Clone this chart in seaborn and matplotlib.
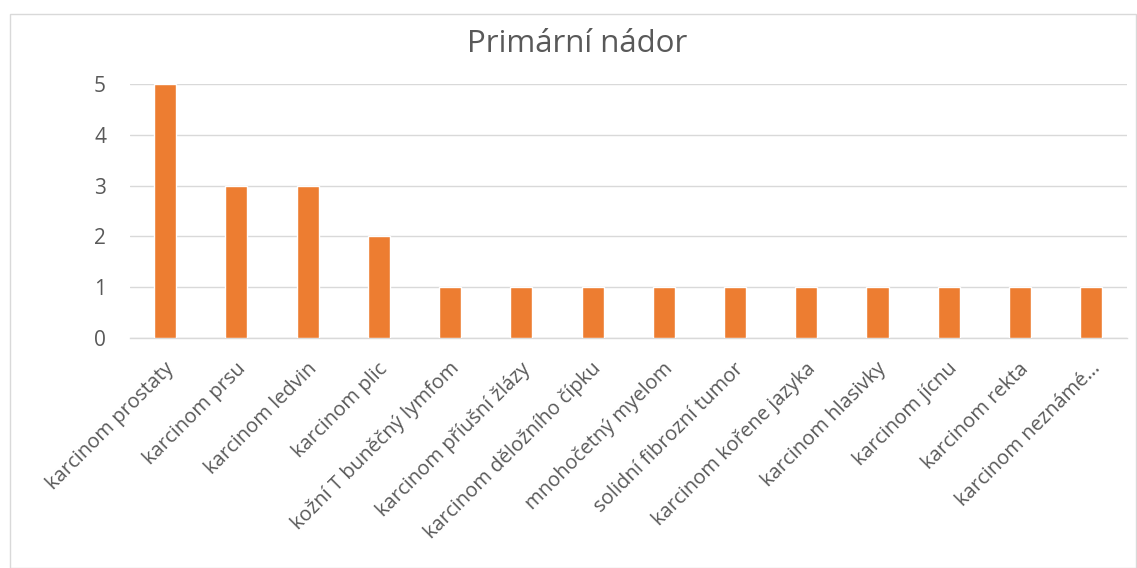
"""Primární nádor — sloupcový graf počtu případů"""

import matplotlib
matplotlib.use('Agg')
import matplotlib.pyplot as plt
import matplotlib.transforms as mtransforms
import pandas as pd
import seaborn as sns

kategorie = ['karcinom prostaty', 'karcinom prsu', 'karcinom ledvin', 'karcinom plic',
             'kožní T buněčný lymfom', 'karcinom příušní žlázy', 'karcinom děložního čípku',
             'mnohočetný myelom', 'solidní fibrozní tumor', 'karcinom kořene jazyka',
             'karcinom hlasivky', 'karcinom jícnu', 'karcinom rekta', 'karcinom neznámé…']
pocty = [5, 3, 3, 2, 1, 1, 1, 1, 1, 1, 1, 1, 1, 1]
y_ticks = [0, 1, 2, 3, 4, 5]

sns.set_theme(style='white')
plt.rcParams['font.family'] = ['Open Sans', 'DejaVu Sans']
sedy = '#595959'

df = pd.DataFrame({'nador': kategorie, 'pocet': pocty})

fig = plt.figure(figsize=(11.37, 5.68), dpi=100)
fig.patch.set_facecolor('white')
# rámeček grafu jako v Excelu
fig.add_artist(plt.Rectangle((10 / 1137, 0), 1 - 10 / 1137 - 0.001, 1 - 14 / 568,
                             transform=fig.transFigure, fill=False,
                             edgecolor='#d9d9d9', linewidth=1))
ax = fig.add_axes([0.114, 0.405, 0.877, 0.447])

sns.barplot(data=df, x='nador', y='pocet', color='#ED7D31', width=0.31,
            saturation=1, ax=ax, zorder=3)

ax.set_ylim(0, 5)
ax.set_yticks(y_ticks)
ax.set_xlim(-0.5, len(kategorie) - 0.5)
ax.yaxis.grid(True, color='#d9d9d9', linewidth=1)
ax.set_axisbelow(True)
for s in ['top', 'right', 'left']:
    ax.spines[s].set_visible(False)
ax.spines['bottom'].set_color('#d9d9d9')
ax.spines['bottom'].set_linewidth(1)
ax.set_xlabel('')
ax.set_ylabel('')
ax.tick_params(axis='y', length=0, labelsize=15, labelcolor=sedy, pad=17)
ax.tick_params(axis='x', length=0, labelsize=14.5, labelcolor=sedy, pad=15)
posun = mtransforms.ScaledTranslation(-1 / 100, 0, fig.dpi_scale_trans)
for lbl in ax.get_xticklabels():
    lbl.set_rotation(45)
    lbl.set_ha('right')
    lbl.set_rotation_mode('anchor')
    lbl.set_transform(lbl.get_transform() + posun)

fig.text(0.508, 0.922, 'Primární nádor', ha='center', va='center',
         fontsize=22.5, color=sedy)

fig.savefig('out.png', dpi=100)
